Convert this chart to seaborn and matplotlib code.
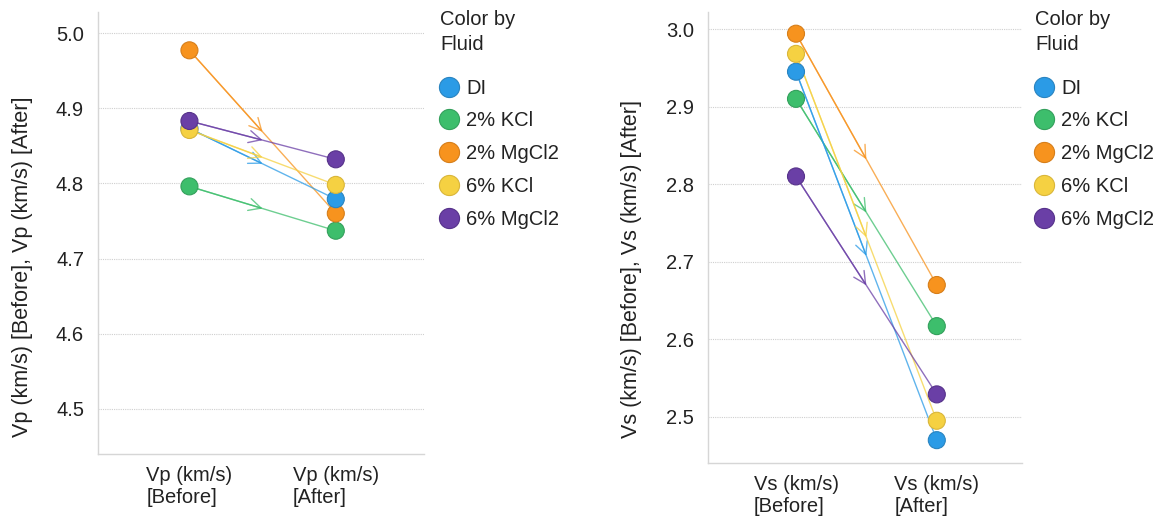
import numpy as np
import pandas as pd
import matplotlib
matplotlib.use("Agg")
import matplotlib.pyplot as plt
import seaborn as sns

fluids = ["DI", "2% KCl", "2% MgCl2", "6% KCl", "6% MgCl2"]
colors = ["#2B9BE6", "#3DBE6C", "#F7931E", "#F5D142", "#6A3FA6"]
edge_colors = ["#2A84C0", "#34A05C", "#D67E1A", "#D9B63A", "#56328A"]

vp_before = [4.873, 4.796, 4.977, 4.871, 4.883]
vp_after = [4.779, 4.737, 4.760, 4.798, 4.832]
vs_before = [2.945, 2.910, 2.994, 2.968, 2.810]
vs_after = [2.470, 2.617, 2.670, 2.495, 2.529]

vp_labels = ["Vp (km/s)\n[Before]", "Vp (km/s)\n[After]"]
vs_labels = ["Vs (km/s)\n[Before]", "Vs (km/s)\n[After]"]

# stacking order of the series (later = on top)
draw_rank = {"2% KCl": 1, "2% MgCl2": 2, "DI": 3, "6% KCl": 4, "6% MgCl2": 5}

sns.set_theme(style="white")
plt.rcParams["font.family"] = ["Liberation Sans", "DejaVu Sans"]

fig = plt.figure(figsize=(11.62, 5.21), dpi=100)
ax1 = fig.add_axes([0.0843, 0.1286, 0.2809, 0.8484])
ax2 = fig.add_axes([0.6093, 0.1120, 0.2702, 0.8650])

palette = dict(zip(fluids, colors))


def panel(ax, before, after, labels, ylabel, ylim, yticks, label_xy, legend_anchor):
    df = pd.DataFrame({
        "Fluid": fluids * 2,
        "pos": [0] * len(fluids) + [1] * len(fluids),
        "value": list(before) + list(after),
    })
    for i, f in enumerate(fluids):
        z = draw_rank[f]
        b, a = before[i], after[i]
        ax.plot([0, 1], [b, a], color=colors[i], lw=1.0, alpha=0.75, zorder=z)
        ax.annotate("", xy=(0.5, (a + b) / 2), xytext=(0, b),
                    arrowprops=dict(arrowstyle="->", color=colors[i], lw=1.0,
                                    alpha=0.75, mutation_scale=22,
                                    shrinkA=0, shrinkB=0),
                    zorder=z)
        sub = df[df["Fluid"] == f]
        sns.scatterplot(data=sub, x="pos", y="value", hue="Fluid",
                        palette=palette, s=150, edgecolor=edge_colors[i],
                        linewidth=0.8, ax=ax, legend=False, zorder=10 + z)

    ax.set_xlim(-0.625, 1.605)
    ax.set_ylim(*ylim)
    ax.set_yticks(yticks)
    ax.set_yticklabels([f"{t:.1f}" for t in yticks], fontsize=14.5, color="#222222")
    ax.set_xticks([0, 1])
    ax.set_xticklabels(labels, fontsize=14.5, color="#222222")
    for lab in ax.get_xticklabels():
        lab.set_multialignment("left")
    ax.set_xlabel("")
    ax.set_ylabel(ylabel, fontsize=15.5, color="#222222")
    ax.yaxis.set_label_coords(*label_xy)
    ax.grid(axis="y", color="#cfcfcf", linestyle=(0, (1, 1)), lw=0.8)
    ax.grid(axis="x", visible=False)
    for s in ["top", "right"]:
        ax.spines[s].set_visible(False)
    for s in ["left", "bottom"]:
        ax.spines[s].set_color("#d6d6d6")
        ax.spines[s].set_linewidth(1.0)
    ax.tick_params(axis="x", length=3, color="#d6d6d6", pad=6)
    ax.tick_params(axis="y", length=0, pad=10)

    handles = [plt.Line2D([], [], marker="o", ls="", markersize=14.5,
                          markerfacecolor=c, markeredgecolor=e, markeredgewidth=0.8)
               for c, e in zip(colors, edge_colors)]
    leg = fig.legend(handles, fluids, title="Color by\nFluid", loc="upper left",
                     bbox_to_anchor=legend_anchor, frameon=False, fontsize=14.5,
                     title_fontsize=14.5, alignment="left", handlelength=0.9,
                     handletextpad=0.4, labelspacing=0.68, borderpad=0,
                     borderaxespad=0)
    for t in leg.get_texts():
        t.set_color("#222222")
    title = leg.get_title()
    title.set_color("#222222")
    title.set_linespacing(1.4)
    # extra room between the legend title and its entries
    leg._legend_box.sep = 0.68 * 14.5 + 8


panel(ax1, vp_before, vp_after, vp_labels,
      "Vp (km/s) [Before], Vp (km/s) [After]", (4.44, 5.028),
      [4.5, 4.6, 4.7, 4.8, 4.9, 5.0], (-0.20, 0.424),
      (440 / 1162, 1 - 10 / 521))
panel(ax2, vs_before, vs_after, vs_labels,
      "Vs (km/s) [Before], Vs (km/s) [After]", (2.441, 3.022),
      [2.5, 2.6, 2.7, 2.8, 2.9, 3.0], (-0.21, 0.43),
      (1035 / 1162, 1 - 10 / 521))

fig.savefig("out.png", dpi=100)
